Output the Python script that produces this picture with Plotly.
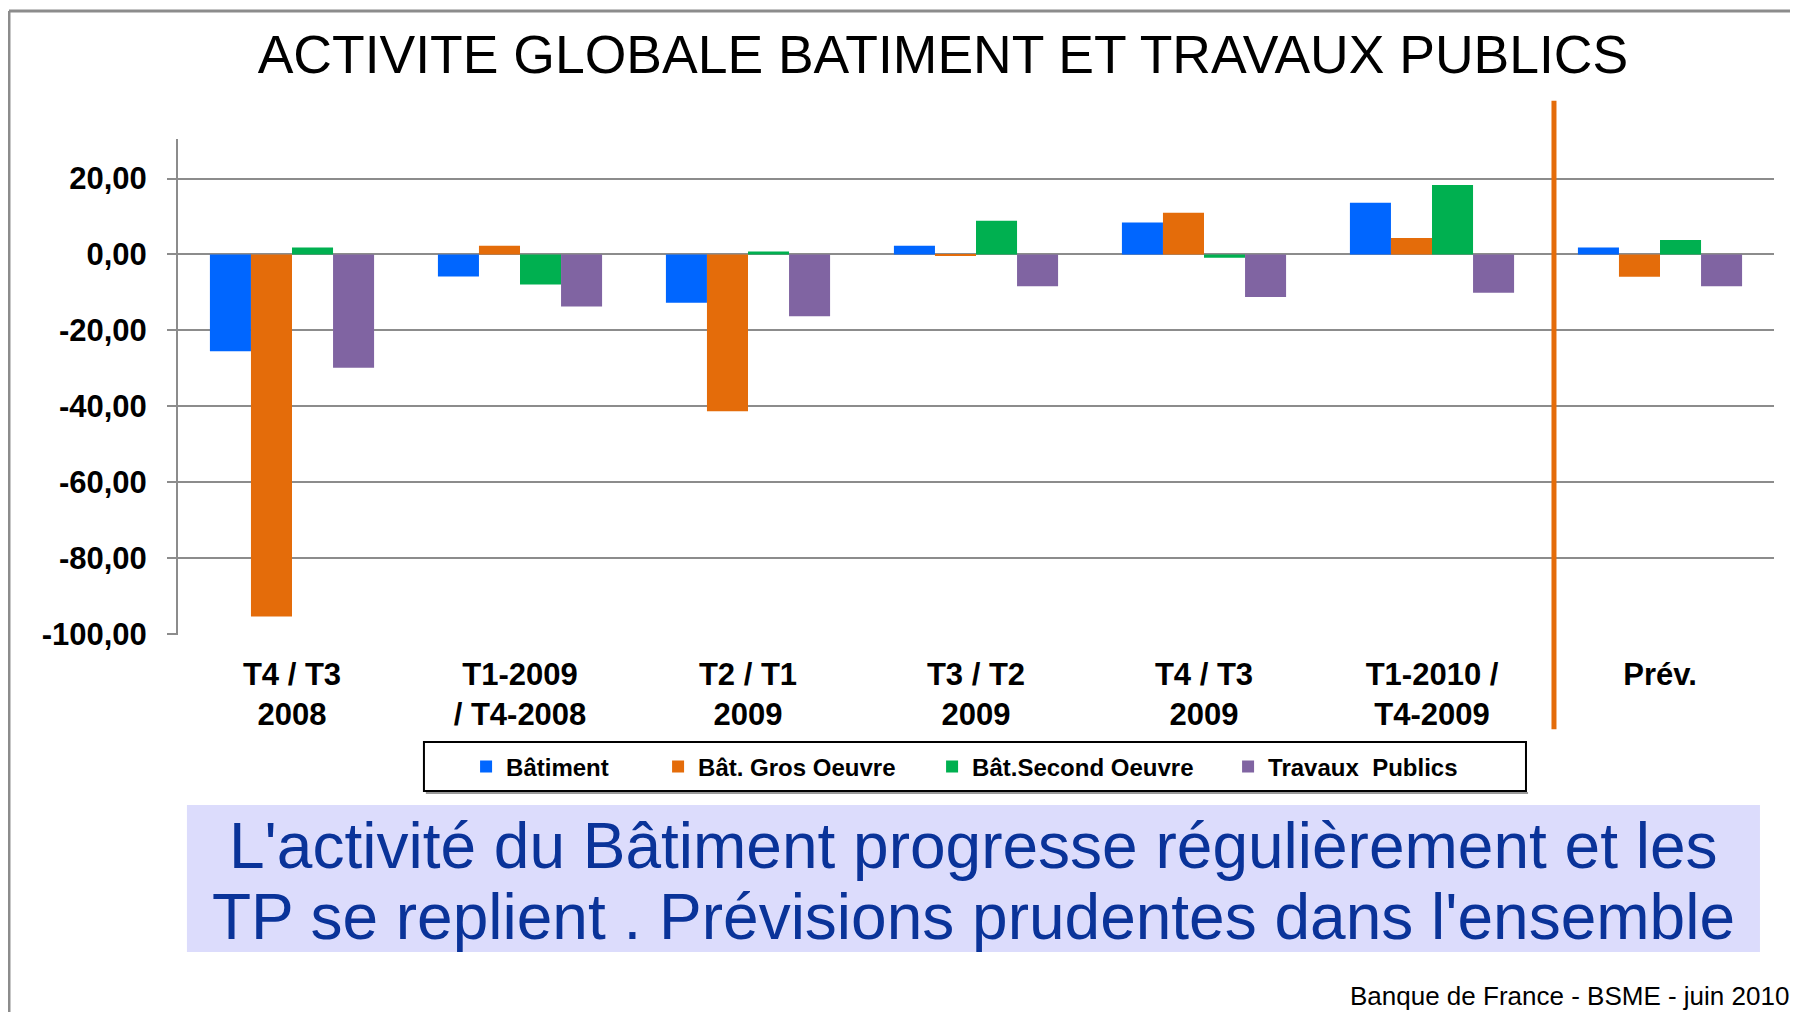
import plotly.graph_objects as go

# categories on the x axis (tick labels)
CATEGORIES = [
    "T4 / T3<br>2008",
    "T1-2009<br>/ T4-2008",
    "T2 / T1<br>2009",
    "T3 / T2<br>2009",
    "T4 / T3<br>2009",
    "T1-2010 /<br>T4-2009",
    "Prév.",
]

BATIMENT = [-25.5, -5.8, -12.7, 2.3, 8.4, 13.6, 1.8]
GROS_OEUVRE = [-95.3, 2.3, -41.3, -0.2, 11.0, 4.3, -5.9]
SECOND_OEUVRE = [1.8, -7.9, 0.8, 8.9, -0.9, 18.3, 3.8]
TRAVAUX_PUBLICS = [-29.8, -13.7, -16.3, -8.4, -11.2, -10.1, -8.4]

Y_TICKS = [20, 0, -20, -40, -60, -80, -100]
Y_TICK_LABELS = ["20,00", "0,00", "-20,00", "-40,00", "-60,00", "-80,00", "-100,00"]

SERIES = [
    ("Bâtiment", BATIMENT, "#0066FF", 147),
    ("Bât. Gros Oeuvre", GROS_OEUVRE, "#E46C0A", 229),
    ("Bât.Second Oeuvre", SECOND_OEUVRE, "#00B050", 251),
    ("Travaux  Publics", TRAVAUX_PUBLICS, "#8064A2", 210),
]

FONT = "Liberation Sans, Arial, sans-serif"
GRID = "#8C8C8C"

fig = go.Figure()
for name, vals, color, lw in SERIES:
    fig.add_trace(go.Bar(x=CATEGORIES, y=vals, name=name,
                         marker=dict(color=color, line=dict(width=0)),
                         legendwidth=lw))

# page body has an 8px margin, so the figure is 8px smaller than the window
fig.update_layout(
    width=1790, height=1004, autosize=False,
    margin=dict(l=170, r=24, t=131, b=377),
    paper_bgcolor="white", plot_bgcolor="white",
    barmode="group", bargap=0.28, bargroupgap=0,
    font=dict(family=FONT, color="black"),
    title=dict(text="ACTIVITE GLOBALE BATIMENT ET TRAVAUX PUBLICS",
               x=0.5223, xanchor="center", y=0.9542, yanchor="middle",
               font=dict(size=53.5, family=FONT, color="black")),
    legend=dict(orientation="h", x=0.1805, xanchor="left", y=-0.266, yanchor="middle",
                font=dict(size=24, weight="bold", color="black"),
                bgcolor="rgba(0,0,0,0)", borderwidth=0, traceorder="normal"),
)

fig.update_yaxes(range=[-100.2, 30.4], tickvals=Y_TICKS, ticktext=Y_TICK_LABELS,
                 showgrid=True, gridcolor=GRID, gridwidth=2,
                 zeroline=True, zerolinecolor=GRID, zerolinewidth=2,
                 showline=True, linecolor=GRID, linewidth=2,
                 ticks="outside", ticklen=9, tickwidth=2, tickcolor=GRID,
                 ticklabelstandoff=14,
                 tickfont=dict(size=31, weight="bold", color="black"))
fig.update_xaxes(showgrid=False, showline=False, ticks="", ticklabelstandoff=18,
                 tickfont=dict(size=31, weight="bold", color="black"))

shapes = [
    # outer frame (left and top)
    dict(type="line", xref="paper", yref="paper", x0=-0.1059, x1=-0.1059, y0=-0.77, y1=1.258,
         line=dict(color=GRID, width=3)),
    dict(type="line", xref="paper", yref="paper", x0=-0.1059, x1=1.02, y0=1.258, y1=1.258,
         line=dict(color=GRID, width=3)),
    # separator between observed and forecast
    dict(type="line", xref="x", yref="paper", x0=5.535, x1=5.535, y0=-0.19, y1=1.077,
         line=dict(color="#E46C0A", width=5)),
    # legend frame with shadow
    dict(type="line", xref="paper", yref="paper", x0=0.1553, x1=0.8459, y0=-0.3185, y1=-0.3185,
         line=dict(color="#999999", width=2)),
    dict(type="rect", xref="paper", yref="paper", x0=0.1541, x1=0.8446, y0=-0.3145, y1=-0.2157,
         line=dict(color="black", width=2), fillcolor="rgba(0,0,0,0)"),
    # comment box
    dict(type="rect", xref="paper", yref="paper", x0=0.0056, x1=0.9912, y0=-0.639, y1=-0.3427,
         line=dict(width=0), fillcolor="#DCDCFC", layer="below"),
]
fig.update_layout(shapes=shapes)

fig.add_annotation(text="L'activité du Bâtiment progresse régulièrement et les",
                   xref="paper", yref="paper", x=0.4984, y=-0.425, xanchor="center", yanchor="middle",
                   showarrow=False, font=dict(size=64, color="#0A3399", family=FONT))
fig.add_annotation(text="TP se replient . Prévisions prudentes dans l'ensemble",
                   xref="paper", yref="paper", x=0.4984, y=-0.5695, xanchor="center", yanchor="middle",
                   showarrow=False, font=dict(size=64, color="#0A3399", family=FONT))
fig.add_annotation(text="Banque de France - BSME - juin 2010",
                   xref="paper", yref="paper", x=1.0105, y=-0.728, xanchor="right", yanchor="middle",
                   showarrow=False, font=dict(size=26, color="black", family=FONT))

fig.write_html("out.html")
